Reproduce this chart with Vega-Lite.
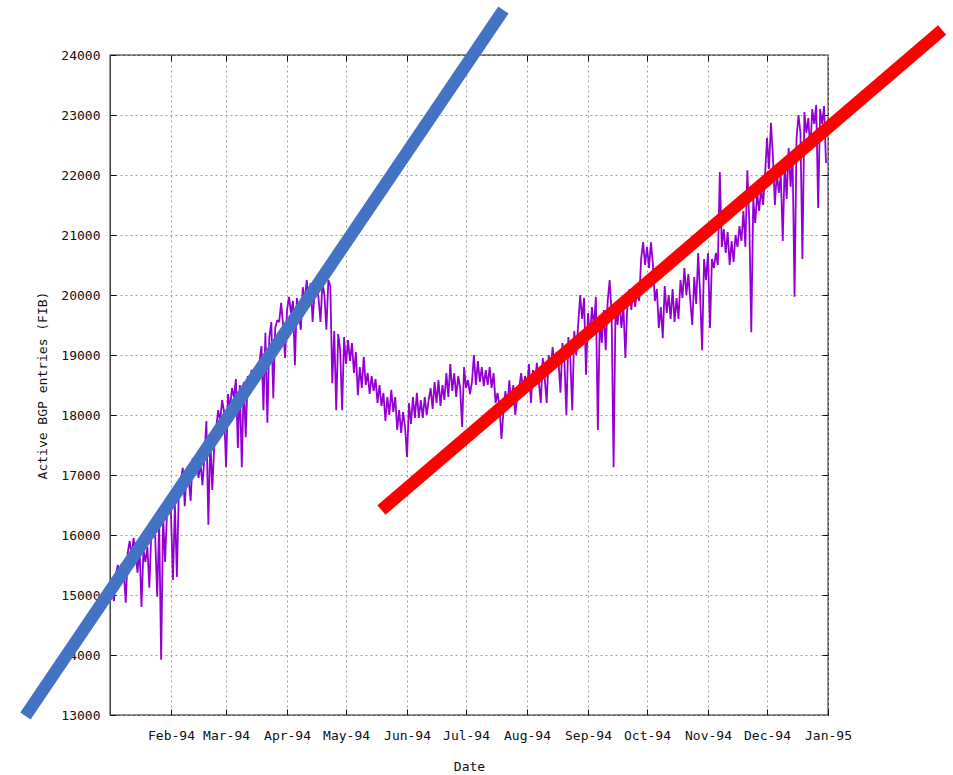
{
  "$schema": "https://vega.github.io/schema/vega-lite/v6.json",
  "width": 718,
  "height": 660,
  "autosize": {"type": "none"},
  "padding": {"left": 110, "top": 55, "right": 125, "bottom": 60},
  "background": "white",
  "config": {
    "font": "DejaVu Sans Mono",
    "view": {"stroke": "#222", "strokeWidth": 1.3},
    "axis": {
      "labelFont": "DejaVu Sans Mono",
      "titleFont": "DejaVu Sans Mono",
      "labelFontSize": 13,
      "titleFontSize": 13,
      "labelColor": "#111",
      "titleColor": "#111",
      "titleFontWeight": "normal",
      "domain": false,
      "tickColor": "#111",
      "tickWidth": 1,
      "gridColor": "#a0a0a0",
      "gridDash": [2, 3],
      "gridWidth": 1,
      "gridOpacity": 1
    }
  },
  "resolve": {"axis": {"x": "independent", "y": "independent"}},
  "layer": [
    {
      "data": {"values": [
        {"d":"1994-01-01","v":14950},{"d":"1994-01-02","v":15050},{"d":"1994-01-03","v":14900},{"d":"1994-01-04","v":15350},{"d":"1994-01-05","v":15500},{"d":"1994-01-06","v":15320},{"d":"1994-01-07","v":15530},{"d":"1994-01-08","v":15400},{"d":"1994-01-09","v":14870},{"d":"1994-01-10","v":15700},{"d":"1994-01-11","v":15900},{"d":"1994-01-12","v":15650},{"d":"1994-01-13","v":15950},{"d":"1994-01-14","v":15700},{"d":"1994-01-15","v":15370},{"d":"1994-01-16","v":15800},{"d":"1994-01-17","v":14800},{"d":"1994-01-18","v":15750},{"d":"1994-01-19","v":15550},{"d":"1994-01-20","v":15800},{"d":"1994-01-21","v":15120},{"d":"1994-01-22","v":16050},{"d":"1994-01-23","v":16250},{"d":"1994-01-24","v":15950},{"d":"1994-01-25","v":14970},{"d":"1994-01-26","v":16200},{"d":"1994-01-27","v":13920},{"d":"1994-01-28","v":16300},{"d":"1994-01-29","v":15550},{"d":"1994-01-30","v":16400},{"d":"1994-01-31","v":16580},
        {"d":"1994-02-01","v":16350},{"d":"1994-02-02","v":15250},{"d":"1994-02-03","v":16500},{"d":"1994-02-04","v":15300},{"d":"1994-02-05","v":16750},{"d":"1994-02-06","v":16900},{"d":"1994-02-07","v":17120},{"d":"1994-02-08","v":16480},{"d":"1994-02-09","v":17100},{"d":"1994-02-10","v":16950},{"d":"1994-02-11","v":16570},{"d":"1994-02-12","v":17280},{"d":"1994-02-13","v":17000},{"d":"1994-02-14","v":17250},{"d":"1994-02-15","v":16950},{"d":"1994-02-16","v":17200},{"d":"1994-02-17","v":16830},{"d":"1994-02-18","v":17300},{"d":"1994-02-19","v":17900},{"d":"1994-02-20","v":16170},{"d":"1994-02-21","v":17600},{"d":"1994-02-22","v":16750},{"d":"1994-02-23","v":17500},{"d":"1994-02-24","v":17800},{"d":"1994-02-25","v":18080},{"d":"1994-02-26","v":17900},{"d":"1994-02-27","v":18250},{"d":"1994-02-28","v":18050},
        {"d":"1994-03-01","v":17130},{"d":"1994-03-02","v":18350},{"d":"1994-03-03","v":18100},{"d":"1994-03-04","v":18450},{"d":"1994-03-05","v":18300},{"d":"1994-03-06","v":18600},{"d":"1994-03-07","v":17450},{"d":"1994-03-08","v":18500},{"d":"1994-03-09","v":17130},{"d":"1994-03-10","v":18550},{"d":"1994-03-11","v":17630},{"d":"1994-03-12","v":18650},{"d":"1994-03-13","v":18550},{"d":"1994-03-14","v":18750},{"d":"1994-03-15","v":18600},{"d":"1994-03-16","v":18730},{"d":"1994-03-17","v":18550},{"d":"1994-03-18","v":18900},{"d":"1994-03-19","v":19150},{"d":"1994-03-20","v":18080},{"d":"1994-03-21","v":19370},{"d":"1994-03-22","v":17870},{"d":"1994-03-23","v":19300},{"d":"1994-03-24","v":19550},{"d":"1994-03-25","v":18280},{"d":"1994-03-26","v":19450},{"d":"1994-03-27","v":19580},{"d":"1994-03-28","v":19550},{"d":"1994-03-29","v":19870},{"d":"1994-03-30","v":19500},{"d":"1994-03-31","v":18950},
        {"d":"1994-04-01","v":19750},{"d":"1994-04-02","v":19970},{"d":"1994-04-03","v":19700},{"d":"1994-04-04","v":19900},{"d":"1994-04-05","v":18830},{"d":"1994-04-06","v":19950},{"d":"1994-04-07","v":19700},{"d":"1994-04-08","v":19420},{"d":"1994-04-09","v":20130},{"d":"1994-04-10","v":19900},{"d":"1994-04-11","v":20250},{"d":"1994-04-12","v":19950},{"d":"1994-04-13","v":20200},{"d":"1994-04-14","v":19550},{"d":"1994-04-15","v":20050},{"d":"1994-04-16","v":20250},{"d":"1994-04-17","v":19950},{"d":"1994-04-18","v":19550},{"d":"1994-04-19","v":20200},{"d":"1994-04-20","v":20000},{"d":"1994-04-21","v":19420},{"d":"1994-04-22","v":20250},{"d":"1994-04-23","v":20150},{"d":"1994-04-24","v":18530},{"d":"1994-04-25","v":19400},{"d":"1994-04-26","v":18080},{"d":"1994-04-27","v":19350},{"d":"1994-04-28","v":19100},{"d":"1994-04-29","v":18080},{"d":"1994-04-30","v":19300},
        {"d":"1994-05-01","v":18850},{"d":"1994-05-02","v":19250},{"d":"1994-05-03","v":18900},{"d":"1994-05-04","v":19200},{"d":"1994-05-05","v":18700},{"d":"1994-05-06","v":19050},{"d":"1994-05-07","v":18330},{"d":"1994-05-08","v":18800},{"d":"1994-05-09","v":18450},{"d":"1994-05-10","v":18970},{"d":"1994-05-11","v":18500},{"d":"1994-05-12","v":18700},{"d":"1994-05-13","v":18350},{"d":"1994-05-14","v":18650},{"d":"1994-05-15","v":18400},{"d":"1994-05-16","v":18600},{"d":"1994-05-17","v":18200},{"d":"1994-05-18","v":18500},{"d":"1994-05-19","v":18150},{"d":"1994-05-20","v":18370},{"d":"1994-05-21","v":17900},{"d":"1994-05-22","v":18300},{"d":"1994-05-23","v":18000},{"d":"1994-05-24","v":18420},{"d":"1994-05-25","v":18050},{"d":"1994-05-26","v":18300},{"d":"1994-05-27","v":17750},{"d":"1994-05-28","v":18080},{"d":"1994-05-29","v":17700},{"d":"1994-05-30","v":18050},{"d":"1994-05-31","v":17800},
        {"d":"1994-06-01","v":17300},{"d":"1994-06-02","v":18200},{"d":"1994-06-03","v":17850},{"d":"1994-06-04","v":18300},{"d":"1994-06-05","v":17950},{"d":"1994-06-06","v":18370},{"d":"1994-06-07","v":17950},{"d":"1994-06-08","v":18250},{"d":"1994-06-09","v":17950},{"d":"1994-06-10","v":18300},{"d":"1994-06-11","v":18000},{"d":"1994-06-12","v":18250},{"d":"1994-06-13","v":18450},{"d":"1994-06-14","v":18100},{"d":"1994-06-15","v":18550},{"d":"1994-06-16","v":18200},{"d":"1994-06-17","v":18580},{"d":"1994-06-18","v":18150},{"d":"1994-06-19","v":18500},{"d":"1994-06-20","v":18250},{"d":"1994-06-21","v":18700},{"d":"1994-06-22","v":18300},{"d":"1994-06-23","v":18850},{"d":"1994-06-24","v":18400},{"d":"1994-06-25","v":18700},{"d":"1994-06-26","v":18300},{"d":"1994-06-27","v":18650},{"d":"1994-06-28","v":18450},{"d":"1994-06-29","v":17800},{"d":"1994-06-30","v":18800},
        {"d":"1994-07-01","v":18450},{"d":"1994-07-02","v":18580},{"d":"1994-07-03","v":18350},{"d":"1994-07-04","v":18550},{"d":"1994-07-05","v":19000},{"d":"1994-07-06","v":18500},{"d":"1994-07-07","v":18900},{"d":"1994-07-08","v":18550},{"d":"1994-07-09","v":18800},{"d":"1994-07-10","v":18480},{"d":"1994-07-11","v":18750},{"d":"1994-07-12","v":18500},{"d":"1994-07-13","v":18800},{"d":"1994-07-14","v":18450},{"d":"1994-07-15","v":18700},{"d":"1994-07-16","v":18200},{"d":"1994-07-17","v":18370},{"d":"1994-07-18","v":18150},{"d":"1994-07-19","v":17600},{"d":"1994-07-20","v":18050},{"d":"1994-07-21","v":18400},{"d":"1994-07-22","v":18100},{"d":"1994-07-23","v":18580},{"d":"1994-07-24","v":18150},{"d":"1994-07-25","v":18500},{"d":"1994-07-26","v":18000},{"d":"1994-07-27","v":18300},{"d":"1994-07-28","v":18450},{"d":"1994-07-29","v":18700},{"d":"1994-07-30","v":18400},{"d":"1994-07-31","v":18650},
        {"d":"1994-08-01","v":18450},{"d":"1994-08-02","v":18850},{"d":"1994-08-03","v":18200},{"d":"1994-08-04","v":18750},{"d":"1994-08-05","v":18500},{"d":"1994-08-06","v":18870},{"d":"1994-08-07","v":18550},{"d":"1994-08-08","v":18200},{"d":"1994-08-09","v":18950},{"d":"1994-08-10","v":18600},{"d":"1994-08-11","v":18200},{"d":"1994-08-12","v":19000},{"d":"1994-08-13","v":18750},{"d":"1994-08-14","v":19130},{"d":"1994-08-15","v":18800},{"d":"1994-08-16","v":19050},{"d":"1994-08-17","v":18900},{"d":"1994-08-18","v":18370},{"d":"1994-08-19","v":19200},{"d":"1994-08-20","v":18900},{"d":"1994-08-21","v":18000},{"d":"1994-08-22","v":19300},{"d":"1994-08-23","v":18950},{"d":"1994-08-24","v":18080},{"d":"1994-08-25","v":19400},{"d":"1994-08-26","v":19000},{"d":"1994-08-27","v":19500},{"d":"1994-08-28","v":20000},{"d":"1994-08-29","v":19600},{"d":"1994-08-30","v":19950},{"d":"1994-08-31","v":18670},
        {"d":"1994-09-01","v":19700},{"d":"1994-09-02","v":19300},{"d":"1994-09-03","v":19800},{"d":"1994-09-04","v":19450},{"d":"1994-09-05","v":19970},{"d":"1994-09-06","v":17750},{"d":"1994-09-07","v":19600},{"d":"1994-09-08","v":19200},{"d":"1994-09-09","v":19750},{"d":"1994-09-10","v":19080},{"d":"1994-09-11","v":19900},{"d":"1994-09-12","v":20250},{"d":"1994-09-13","v":19700},{"d":"1994-09-14","v":17130},{"d":"1994-09-15","v":19850},{"d":"1994-09-16","v":19500},{"d":"1994-09-17","v":19900},{"d":"1994-09-18","v":19450},{"d":"1994-09-19","v":19800},{"d":"1994-09-20","v":18950},{"d":"1994-09-21","v":19850},{"d":"1994-09-22","v":20100},{"d":"1994-09-23","v":19750},{"d":"1994-09-24","v":20050},{"d":"1994-09-25","v":19800},{"d":"1994-09-26","v":20130},{"d":"1994-09-27","v":19900},{"d":"1994-09-28","v":20600},{"d":"1994-09-29","v":20880},{"d":"1994-09-30","v":20500},
        {"d":"1994-10-01","v":20800},{"d":"1994-10-02","v":20450},{"d":"1994-10-03","v":20880},{"d":"1994-10-04","v":20500},{"d":"1994-10-05","v":19900},{"d":"1994-10-06","v":20100},{"d":"1994-10-07","v":19450},{"d":"1994-10-08","v":19800},{"d":"1994-10-09","v":19280},{"d":"1994-10-10","v":20150},{"d":"1994-10-11","v":19700},{"d":"1994-10-12","v":20000},{"d":"1994-10-13","v":19600},{"d":"1994-10-14","v":20100},{"d":"1994-10-15","v":19550},{"d":"1994-10-16","v":19950},{"d":"1994-10-17","v":19600},{"d":"1994-10-18","v":20250},{"d":"1994-10-19","v":19950},{"d":"1994-10-20","v":20450},{"d":"1994-10-21","v":20000},{"d":"1994-10-22","v":20350},{"d":"1994-10-23","v":19900},{"d":"1994-10-24","v":19500},{"d":"1994-10-25","v":20300},{"d":"1994-10-26","v":19850},{"d":"1994-10-27","v":20700},{"d":"1994-10-28","v":20000},{"d":"1994-10-29","v":19080},{"d":"1994-10-30","v":20600},{"d":"1994-10-31","v":20250},
        {"d":"1994-11-01","v":20700},{"d":"1994-11-02","v":19450},{"d":"1994-11-03","v":20600},{"d":"1994-11-04","v":20450},{"d":"1994-11-05","v":20700},{"d":"1994-11-06","v":20500},{"d":"1994-11-07","v":22050},{"d":"1994-11-08","v":20800},{"d":"1994-11-09","v":21100},{"d":"1994-11-10","v":20700},{"d":"1994-11-11","v":21050},{"d":"1994-11-12","v":20500},{"d":"1994-11-13","v":20900},{"d":"1994-11-14","v":20550},{"d":"1994-11-15","v":21000},{"d":"1994-11-16","v":20800},{"d":"1994-11-17","v":21150},{"d":"1994-11-18","v":20900},{"d":"1994-11-19","v":21400},{"d":"1994-11-20","v":20800},{"d":"1994-11-21","v":22080},{"d":"1994-11-22","v":21200},{"d":"1994-11-23","v":19380},{"d":"1994-11-24","v":21600},{"d":"1994-11-25","v":21200},{"d":"1994-11-26","v":21700},{"d":"1994-11-27","v":21400},{"d":"1994-11-28","v":21780},{"d":"1994-11-29","v":21500},{"d":"1994-11-30","v":22000},
        {"d":"1994-12-01","v":22620},{"d":"1994-12-02","v":22100},{"d":"1994-12-03","v":22870},{"d":"1994-12-04","v":22300},{"d":"1994-12-05","v":21500},{"d":"1994-12-06","v":22050},{"d":"1994-12-07","v":21700},{"d":"1994-12-08","v":22000},{"d":"1994-12-09","v":20900},{"d":"1994-12-10","v":22200},{"d":"1994-12-11","v":21600},{"d":"1994-12-12","v":22450},{"d":"1994-12-13","v":21800},{"d":"1994-12-14","v":22300},{"d":"1994-12-15","v":19970},{"d":"1994-12-16","v":22600},{"d":"1994-12-17","v":23000},{"d":"1994-12-18","v":22700},{"d":"1994-12-19","v":20600},{"d":"1994-12-20","v":23050},{"d":"1994-12-21","v":22700},{"d":"1994-12-22","v":22950},{"d":"1994-12-23","v":22400},{"d":"1994-12-24","v":23100},{"d":"1994-12-25","v":22850},{"d":"1994-12-26","v":23170},{"d":"1994-12-27","v":21450},{"d":"1994-12-28","v":23100},{"d":"1994-12-29","v":22850},{"d":"1994-12-30","v":23150},{"d":"1994-12-31","v":22200}
      ]},
      "mark": {"type": "line", "color": "#9400D3", "strokeWidth": 1.8, "strokeJoin": "bevel", "interpolate": "linear"},
      "encoding": {
        "x": {
          "field": "d", "type": "temporal",
          "scale": {"type": "utc", "domain": [{"year": 1994, "month": 1, "date": 1, "utc": true}, {"year": 1995, "month": 1, "date": 1, "utc": true}]},
          "axis": {
            "orient": "bottom",
            "title": "Date",
            "format": "%b-%y",
            "values": [
              {"year": 1994, "month": 2, "date": 1, "utc": true}, {"year": 1994, "month": 3, "date": 1, "utc": true},
              {"year": 1994, "month": 4, "date": 1, "utc": true}, {"year": 1994, "month": 5, "date": 1, "utc": true},
              {"year": 1994, "month": 6, "date": 1, "utc": true}, {"year": 1994, "month": 7, "date": 1, "utc": true},
              {"year": 1994, "month": 8, "date": 1, "utc": true}, {"year": 1994, "month": 9, "date": 1, "utc": true},
              {"year": 1994, "month": 10, "date": 1, "utc": true}, {"year": 1994, "month": 11, "date": 1, "utc": true},
              {"year": 1994, "month": 12, "date": 1, "utc": true}, {"year": 1995, "month": 1, "date": 1, "utc": true}
            ],
            "tickSize": -6,
            "labelPadding": 20,
            "labelBaseline": "top",
            "labelAlign": "center",
            "labelFlush": false,
            "labelOverlap": false,
            "titleX": 359,
            "titleY": 55,
            "titleBaseline": "alphabetic",
            "titleAlign": "center",
            "titleAnchor": null
          }
        },
        "y": {
          "field": "v", "type": "quantitative",
          "scale": {"domain": [13000, 24000], "nice": false, "zero": false},
          "axis": {
            "orient": "left",
            "title": "Active BGP entries (FIB)",
            "format": "d",
            "values": [13000, 14000, 15000, 16000, 17000, 18000, 19000, 20000, 21000, 22000, 23000, 24000],
            "tickSize": -6,
            "labelPadding": 16,
            "labelFlush": false,
            "labelOverlap": false,
            "titleAngle": -90,
            "titleX": -68,
            "titleY": 330,
            "titleBaseline": "middle",
            "titleAlign": "center",
            "titleAnchor": null
          }
        }
      }
    },
    {
      "data": {"values": [{"d": "1993-11-19", "v": 12983}, {"d": "1994-07-20", "v": 24750}]},
      "mark": {"type": "line", "color": "#4472C4", "strokeWidth": 12.5, "strokeCap": "butt", "clip": false},
      "encoding": {
        "x": {
          "field": "d", "type": "temporal",
          "scale": {"type": "utc", "domain": [{"year": 1994, "month": 1, "date": 1, "utc": true}, {"year": 1995, "month": 1, "date": 1, "utc": true}]},
          "axis": {
            "orient": "top", "title": null, "labels": false, "grid": false, "domain": false,
            "tickSize": -6,
            "values": [
              {"year": 1994, "month": 2, "date": 1, "utc": true}, {"year": 1994, "month": 3, "date": 1, "utc": true},
              {"year": 1994, "month": 4, "date": 1, "utc": true}, {"year": 1994, "month": 5, "date": 1, "utc": true},
              {"year": 1994, "month": 6, "date": 1, "utc": true}, {"year": 1994, "month": 7, "date": 1, "utc": true},
              {"year": 1994, "month": 8, "date": 1, "utc": true}, {"year": 1994, "month": 9, "date": 1, "utc": true},
              {"year": 1994, "month": 10, "date": 1, "utc": true}, {"year": 1994, "month": 11, "date": 1, "utc": true},
              {"year": 1994, "month": 12, "date": 1, "utc": true}
            ]
          }
        },
        "y": {
          "field": "v", "type": "quantitative",
          "scale": {"domain": [13000, 24000], "nice": false, "zero": false},
          "axis": {
            "orient": "right", "title": null, "labels": false, "grid": false, "domain": false,
            "tickSize": -6,
            "values": [14000, 15000, 16000, 17000, 18000, 19000, 20000, 21000, 22000, 23000]
          }
        }
      }
    },
    {
      "data": {"values": [{"d": "1994-05-19", "v": 16417}, {"d": "1995-02-28", "v": 24417}]},
      "mark": {"type": "line", "color": "#FF0000", "strokeWidth": 12.5, "strokeCap": "butt", "clip": false},
      "encoding": {
        "x": {
          "field": "d", "type": "temporal",
          "scale": {"type": "utc", "domain": [{"year": 1994, "month": 1, "date": 1, "utc": true}, {"year": 1995, "month": 1, "date": 1, "utc": true}]},
          "axis": null
        },
        "y": {
          "field": "v", "type": "quantitative",
          "scale": {"domain": [13000, 24000], "nice": false, "zero": false},
          "axis": null
        }
      }
    }
  ]
}
